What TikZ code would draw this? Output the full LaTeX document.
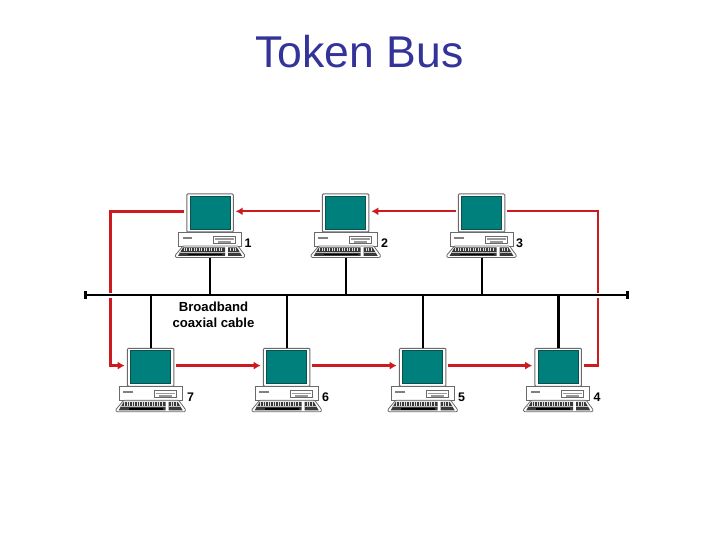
\documentclass[tikz,border=0pt]{standalone}
\usepackage{fontspec}
\setmainfont{Liberation Sans}
\usetikzlibrary{arrows.meta}
\definecolor{titleblue}{HTML}{333399}
\definecolor{screenteal}{HTML}{00807C}
\definecolor{screenedge}{HTML}{0B4F4E}
\definecolor{tokenred}{HTML}{CC1A1F}
\definecolor{caseline}{HTML}{6A6A6A}
\tikzset{
  monitorbox/.style={draw=caseline,fill=white,line width=1bp,rounded corners=1bp,minimum width=46.5bp,minimum height=38bp,inner sep=0pt,outer sep=0pt},
  screenbox/.style={draw=screenedge,fill=screenteal,line width=1bp,minimum width=40bp,minimum height=33bp,inner sep=0pt},
  casepart/.style={draw=caseline,fill=white,line width=0.8bp},
  buscable/.style={draw=black,line width=2.2bp},
  stubcable/.style={draw=black,line width=2.1bp},
  tokenline/.style={draw=tokenred,line width=2.4bp},
  tokenarrow/.style={tokenline,-{Latex[length=7bp,width=8bp]}},
  numlabel/.style={font=\fontsize{12.5}{13}\selectfont\bfseries,inner sep=0pt},
  cablelabel/.style={font=\fontsize{13.2}{16.2}\selectfont\bfseries,align=center,inner sep=0pt},
}
\newcommand{\pcunit}[4]{%
  \begin{scope}[shift={(#2,#3)}]
    \node[monitorbox] (m#1) at (0,19) {};
    \node[screenbox] at (0,19) {};
    \path[casepart] (-31.5,38.5) rectangle (31.5,52);
    \path[casepart,rounded corners=0.8bp] (-27,52) -- (28,52) -- (35,61.5) -- (34,63.5) -- (-34,63.5) -- (-35,61.5) -- cycle;
    \path[draw=caseline,fill=white,line width=0.7bp] (3.5,42) rectangle (25.5,49);
    \fill[gray!80] (5,44.3) rectangle (24,46);
    \fill[gray!80] (8,47) rectangle (21,49);
    \fill[gray] (-27.5,42.8) rectangle (-18,44.6);
    \fill[gray!45!black] (-27,53.5) -- (15,53.5) -- (15,62) -- (-32,62) -- cycle;
    \fill[gray!45!black] (18,53.5) -- (27,53.5) -- (32,62) -- (18,62) -- cycle;
    \foreach \kx in {-26,-23.5,...,13}{\draw[gray!25,line width=0.7bp] (\kx,54) -- (\kx,57.2);}
    \foreach \kx in {20.5,23,25.5}{\draw[gray!25,line width=0.7bp] (\kx,54) -- (\kx,57.2);}
    \draw[gray!50,line width=0.8bp] (-31,58.3) -- (15,58.3);
    \draw[gray!50,line width=0.8bp] (18,58.3) -- (30,58.3);
    \fill[black] (-22,59.8) rectangle (12,61.4);
    \coordinate (k#1) at (0.3,64);
    \coordinate (w#1) at (-26,17.3);
    \coordinate (e#1) at (25.7,17.3);
    \node[numlabel] (n#1) at (#4,49) {#1};
  \end{scope}}
\begin{document}
\begin{tikzpicture}[x=1bp,y=-1bp]
  \useasboundingbox (0,0) rectangle (720,540);
  \fill[white] (0,0) rectangle (720,540);
  \node[text=titleblue,font=\fontsize{44.7}{48}\selectfont,anchor=base,inner sep=0pt] (title) at (359.5,68) {Token Bus};

  \coordinate (busL) at (85,295);
  \coordinate (busR) at (627,295);
  \coordinate (leftA) at (110.4,293);
  \coordinate (leftB) at (110.4,298);
  \coordinate (rightA) at (598,298);
  \coordinate (rightB) at (598,292.5);

  \pcunit{1}{210}{194}{38}
  \pcunit{2}{345.7}{194}{39}
  \pcunit{3}{481.5}{194}{38}
  \pcunit{7}{150.7}{348.3}{40}
  \pcunit{6}{286.7}{348.3}{39}
  \pcunit{5}{422.7}{348.3}{39}
  \pcunit{4}{558.2}{348.3}{39}

  \path[buscable] (busL) -- (busR);
  \draw[black,line width=3bp] ([yshift=-4bp]busL) -- ([yshift=4bp]busL);
  \draw[black,line width=3bp] ([yshift=-4bp]busR) -- ([yshift=4bp]busR);

  \foreach \i in {1,2,3}{\path[stubcable] (k\i) -- (k\i |- busL);}
  \foreach \i in {7,6,5}{\path[stubcable] (m\i.north) -- (m\i.north |- busL);}
  \path[stubcable,line width=2.6bp] (m4.north) -- (m4.north |- busL);

  \path[tokenline,line width=2.9bp] (w1) -| (leftA);
  \path[tokenarrow,line width=2.9bp] (leftB) |- (w7);
  \path[tokenarrow] (e7) -- (w6);
  \path[tokenarrow] (e6) -- (w5);
  \path[tokenarrow] (e5) -- (w4);
  \path[tokenline] (e4) -| (rightA);
  \path[tokenline] (rightB) |- (e3);
  \path[tokenarrow] (w3) -- (e2);
  \path[tokenarrow] (w2) -- (e1);

  \node[cablelabel] (cable) at (213.5,314.5) {Broadband\\coaxial cable};
\end{tikzpicture}
\end{document}
